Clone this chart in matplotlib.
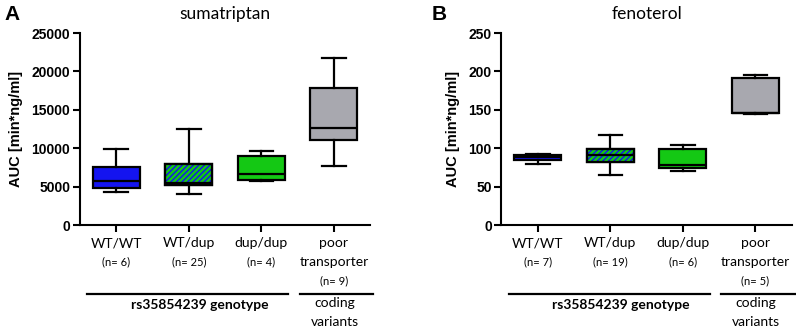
import matplotlib
matplotlib.use("Agg")
import matplotlib.pyplot as plt
import matplotlib.transforms as mtransforms
from matplotlib.patches import PathPatch

plt.rcParams['hatch.linewidth'] = 1.8

groups = ["WT/WT", "WT/dup", "dup/dup", "poor\ntransporter"]

# box stats: whisker low, q1, median, q3, whisker high
suma_lo = [4350, 4000, 5750, 7750]
suma_q1 = [4800, 5150, 5850, 11050]
suma_med = [5750, 5500, 6600, 12650]
suma_q3 = [7600, 7900, 9000, 17850]
suma_hi = [9900, 12450, 9700, 21750]
suma_n = [6, 25, 4, 9]

feno_lo = [79, 65.5, 70.5, 144.5]
feno_q1 = [84.5, 82.5, 74, 145.5]
feno_med = [88, 91, 78.5, 145.5]
feno_q3 = [91, 99.5, 99.5, 192]
feno_hi = [93, 117, 104.5, 195]
feno_n = [7, 19, 6, 5]

BLUE = '#1414f0'
GREEN = '#14c814'
GREY = '#a8a8af'
SANS = ['Liberation Sans', 'DejaVu Sans']
CAL = ['Lato', 'DejaVu Sans']


def draw_panel(ax, lo, q1, med, q3, hi, ns, ymax, step, title):
    stats = []
    for i in range(len(groups)):
        stats.append(dict(whislo=lo[i], q1=q1[i], med=med[i], q3=q3[i], whishi=hi[i], fliers=[]))
    pos = [0.5, 1.5, 2.5, 3.5]
    lw = 1.6
    bp = ax.bxp(stats, positions=pos, widths=0.65, patch_artist=True, showfliers=False,
                boxprops=dict(linewidth=lw, edgecolor='black'),
                medianprops=dict(color='black', linewidth=lw),
                whiskerprops=dict(color='black', linewidth=lw),
                capprops=dict(color='black', linewidth=lw))
    faces = [BLUE, BLUE, GREEN, GREY]
    for i, box in enumerate(bp['boxes']):
        box.set_facecolor(faces[i])
    # hatched heterozygous box: green stripes over blue
    hb = bp['boxes'][1]
    ax.add_patch(PathPatch(hb.get_path(), facecolor='none', edgecolor=GREEN,
                           hatch='//////', linewidth=0, zorder=hb.get_zorder() + 0.1))
    ax.add_patch(PathPatch(hb.get_path(), facecolor='none', edgecolor='black',
                           linewidth=lw, zorder=hb.get_zorder() + 0.2))
    for m in bp['medians']:
        m.set_zorder(hb.get_zorder() + 0.3)

    ax.set_xlim(0, 4)
    ax.set_ylim(0, ymax)
    ax.set_yticks(range(0, ymax + 1, step))
    ax.set_xticks(pos)
    ax.set_xticklabels([])
    for s in ['top', 'right']:
        ax.spines[s].set_visible(False)
    for s in ['left', 'bottom']:
        ax.spines[s].set_linewidth(1.5)
    ax.tick_params(axis='both', width=1.5, length=5, direction='out')
    ax.tick_params(axis='y', pad=2)
    for t in ax.get_yticklabels():
        t.set_fontfamily(SANS)
        t.set_fontweight('bold')
        t.set_fontsize(10)
    ax.set_ylabel("AUC [min*ng/ml]", fontfamily=SANS, fontweight='bold', fontsize=10.5, labelpad=6)
    ax.set_title(title, fontfamily=CAL, fontsize=12.5, pad=10)

    tr = mtransforms.blended_transform_factory(ax.transData, ax.transAxes)
    for i in range(3):
        ax.text(pos[i], -0.094, groups[i], transform=tr, ha='center', va='center',
                fontfamily=CAL, fontsize=10)
        ax.text(pos[i], -0.193, f"(n= {ns[i]})", transform=tr, ha='center', va='center',
                fontfamily=CAL, fontsize=8)
    ax.text(pos[3], -0.094, "poor", transform=tr, ha='center', va='center',
            fontfamily=CAL, fontsize=10)
    ax.text(pos[3], -0.193, "transporter", transform=tr, ha='center', va='center',
            fontfamily=CAL, fontsize=10)
    ax.text(pos[3], -0.292, f"(n= {ns[3]})", transform=tr, ha='center', va='center',
            fontfamily=CAL, fontsize=8)

    ax.plot([0.1, 2.87], [-0.36, -0.36], transform=tr, color='black', lw=1.6, clip_on=False)
    ax.plot([3.03, 4.04], [-0.36, -0.36], transform=tr, color='black', lw=1.6, clip_on=False)
    ax.text(1.65, -0.417, "rs35854239 genotype", transform=tr, ha='center', va='center',
            fontfamily=CAL, fontsize=10, fontweight='bold')
    ax.text(3.51, -0.406, "coding", transform=tr, ha='center', va='center',
            fontfamily=CAL, fontsize=10)
    ax.text(3.51, -0.505, "variants", transform=tr, ha='center', va='center',
            fontfamily=CAL, fontsize=10)


fig = plt.figure(figsize=(7.96, 3.3), dpi=100)
ax1 = fig.add_axes([0.1005, 0.318, 0.3645, 0.582])
ax2 = fig.add_axes([0.630, 0.318, 0.3646, 0.582])

draw_panel(ax1, suma_lo, suma_q1, suma_med, suma_q3, suma_hi, suma_n, 25000, 5000, "sumatriptan")
draw_panel(ax2, feno_lo, feno_q1, feno_med, feno_q3, feno_hi, feno_n, 250, 50, "fenoterol")

fig.text(4 / 796, 1 - 14 / 330, "A", fontfamily=SANS, fontweight='bold', fontsize=15,
         ha='left', va='center')
fig.text(432 / 796, 1 - 14 / 330, "B", fontfamily=SANS, fontweight='bold', fontsize=15,
         ha='left', va='center')

fig.savefig("out.png", dpi=100)
